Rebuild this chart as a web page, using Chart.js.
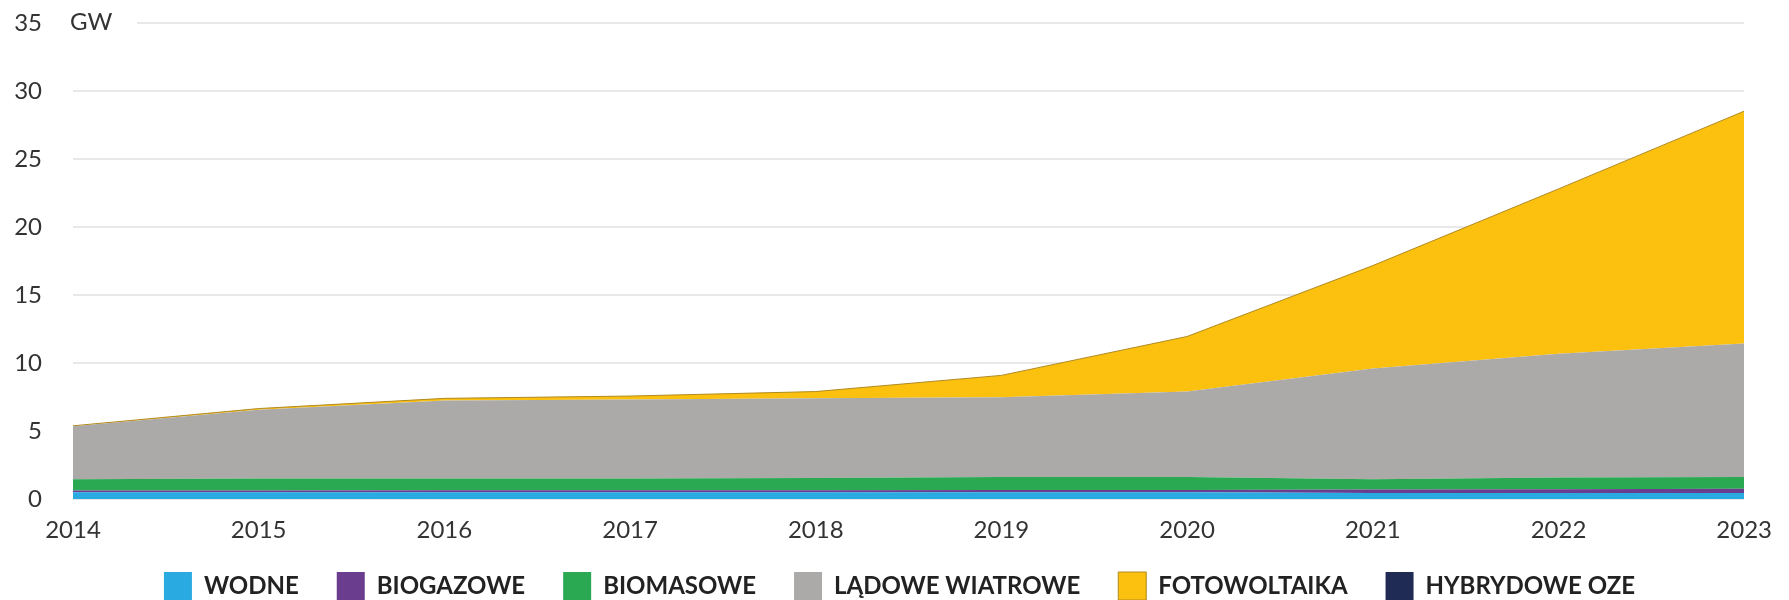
<!DOCTYPE html>
<html>
<head>
<meta charset="utf-8">
<script src="https://cdn.jsdelivr.net/npm/chart.js@4.4.1/dist/chart.umd.min.js"></script>
<style>
html,body{margin:0;padding:0;background:#fff;}
#wrap{width:1789px;height:600px;}
</style>
</head>
<body>
<div id="wrap"><canvas id="mocChart" width="1789" height="600"></canvas></div>
<script>

// lata i moce zainstalowane (GW), wartosci
const years = ["2014","2015","2016","2017","2018","2019","2020","2021","2022","2023"];
const wodne = [0.5,0.5,0.5,0.5,0.5,0.5,0.5,0.45,0.45,0.45];
const biogazowe = [0.12,0.13,0.14,0.15,0.15,0.16,0.17,0.24,0.27,0.30];
const biomasowe = [0.83,0.87,0.86,0.85,0.90,0.96,0.95,0.76,0.86,0.87];
const wiatrowe = [3.90,5.06,5.74,5.82,5.85,5.87,6.28,8.14,9.10,9.82];
const fotowoltaika = [0.03,0.09,0.16,0.25,0.50,1.60,4.05,7.57,12.12,17.08];
const hybrydowe = [0,0,0,0,0,0,0,0,0,0];
const yTicks = [0,5,10,15,20,25,30,35];

const FONT = "Lato, 'Open Sans', sans-serif";

function ds(label, data, color, fill){
  return {
    label: label,
    data: data,
    backgroundColor: color,
    borderColor: color,
    borderWidth: 0,
    pointRadius: 0,
    tension: 0,
    fill: fill
  };
}

const datasets = [
  ds("WODNE", wodne, "#29abe2", "origin"),
  ds("BIOGAZOWE", biogazowe, "#6a3d8f", "-1"),
  ds("BIOMASOWE", biomasowe, "#2aa952", "-1"),
  ds("LĄDOWE WIATROWE", wiatrowe, "#acaaa8", "-1"),
  ds("FOTOWOLTAIKA", fotowoltaika, "#fcc00e", "-1"),
  ds("HYBRYDOWE OZE", hybrydowe, "#1f2a55", "-1")
];
// cienka ciemniejsza krawedz na gorze stosu
datasets[4].borderColor = "#b08a22";
datasets[4].borderWidth = 1;

// napis "GW" przy gornej linii + przesuniecie legendy
const unitLabel = {
  id: "unitLabel",
  afterInit(chart){
    const lg = chart.legend;
    const fit = lg.fit.bind(lg);
    lg.fit = function(){ fit(); this.height = 53; };
    const draw = lg.draw.bind(lg);
    lg.draw = function(){
      this.top -= 13; this.left += 26; this.right += 26;
      draw();
      this.top += 13; this.left -= 26; this.right -= 26;
    };
  },
  afterDraw(chart){
    const ctx = chart.ctx;
    const y = chart.scales.y.getPixelForValue(35);
    const x = chart.chartArea.left;
    ctx.save();
    ctx.fillStyle = "#fff";
    ctx.fillRect(x - 6, y - 14, 70, 28);
    ctx.fillStyle = "#333";
    ctx.font = "24px " + FONT;
    ctx.textBaseline = "middle";
    ctx.textAlign = "left";
    ctx.fillText("GW", x - 3, y - 1);
    ctx.restore();
  }
};

new Chart(document.getElementById("mocChart"), {
  type: "line",
  data: { labels: years, datasets: datasets },
  options: {
    responsive: false,
    animation: false,
    layout: { padding: { top: 0, right: 42, left: 0, bottom: 0 } },
    plugins: {
      legend: {
        position: "bottom",
        labels: {
          boxWidth: 28,
          boxHeight: 28,
          padding: 38,
          color: "#222",
          font: { family: FONT, size: 24, weight: "bold" }
        }
      },
      tooltip: { enabled: false }
    },
    scales: {
      x: {
        offset: false,
        afterFit(axis){ axis.height = 48; },
        grid: { display: false, drawTicks: false },
        border: { display: false },
        ticks: {
          color: "#333",
          padding: 17,
          autoSkip: false,
          maxRotation: 0,
          font: { family: FONT, size: 24 }
        }
      },
      y: {
        stacked: true,
        min: 0,
        max: 35,
        afterBuildTicks(axis){ axis.ticks = yTicks.map(v => ({ value: v })); },
        afterFit(axis){
          axis.width = 73;
          axis.paddingTop = 23;
          axis.paddingBottom = 14;
        },
        grid: { color: "#e8e8e8", lineWidth: 2, drawTicks: false },
        border: { display: false },
        ticks: {
          color: "#333",
          padding: 31,
          font: { family: FONT, size: 24 }
        }
      }
    }
  },
  plugins: [unitLabel]
});
</script>
</body>
</html>
